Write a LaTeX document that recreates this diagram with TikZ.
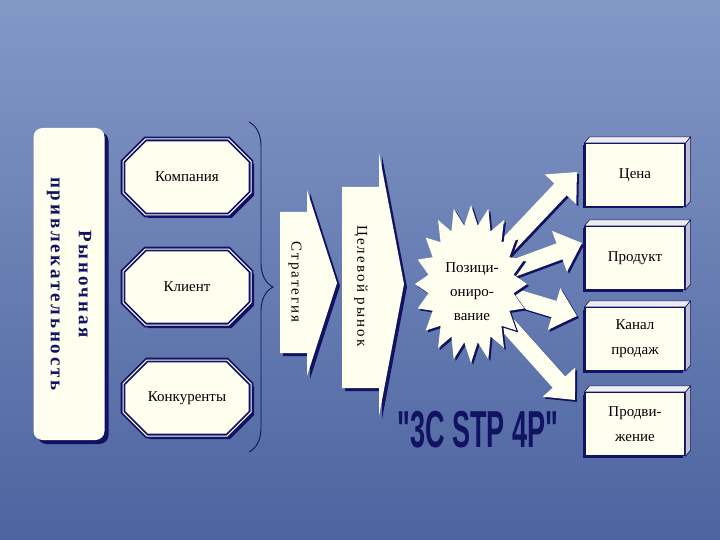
\documentclass[tikz,border=0pt]{standalone}
\usepackage{fontspec}
\setmainfont{Liberation Serif}
\newfontfamily\spacedfont[LetterSpace=14]{Liberation Serif}
\newfontfamily\widefont[LetterSpace=15]{Liberation Serif Bold}
\newfontfamily\headfont{Liberation Sans Bold}
\usetikzlibrary{shapes.misc,shadows,arrows.meta,decorations.pathreplacing}

\definecolor{bgtop}{RGB}{132,152,198}
\definecolor{bgbot}{RGB}{76,100,160}
\definecolor{navy}{RGB}{18,18,98}
\definecolor{cream}{RGB}{255,255,240}
\definecolor{topface}{RGB}{236,236,242}
\definecolor{sideface}{RGB}{188,190,205}

\tikzset{
  navyshadow/.style={drop shadow={shadow xshift=3pt,shadow yshift=-3pt,fill=navy,opacity=1}},
  attrbox/.style={rotate=-90, fill=cream, rounded corners=9pt,
    minimum width=312pt, minimum height=71pt, align=center, text=navy,
    font=\widefont\fontsize{19}{28}\selectfont,
    drop shadow={shadow xshift=4pt,shadow yshift=-4pt,fill=navy,opacity=1}},
  factor/.style={chamfered rectangle, chamfered rectangle xsep=14pt,
    chamfered rectangle ysep=14pt, draw=navy, line width=1.8pt,
    double=white, double distance=1pt, fill=cream,
    minimum width=128pt, minimum height=76pt, text=black,
    font=\fontsize{15}{17}\selectfont, navyshadow},
  chevron/.style={fill=cream, navyshadow},
  vlabel/.style={rotate=-90, text=black, font=\spacedfont\fontsize{15}{17}\selectfont},
  fatshaft/.style={line width=17pt, -{Triangle[length=24pt,width=42pt]}},
  pbox/.style={draw=navy, line width=1.2pt, fill=cream, minimum width=100pt,
    minimum height=63pt, align=center, text=black,
    font=\fontsize{15}{25}\selectfont,
    drop shadow={shadow xshift=-2pt,shadow yshift=-2pt,fill=navy,opacity=1}},
  headline/.style={xscale=0.52, text=navy, font=\headfont\fontsize{52}{52}\selectfont},
}

\begin{document}
\begin{tikzpicture}[x=1pt,y=-1pt]
  \useasboundingbox (0,0) rectangle (720,540);
  \shade[top color=bgtop, bottom color=bgbot] (0,0) rectangle (720,540);

  % brace over the three C
  \coordinate (bracetop) at (249,122);
  \coordinate (bracebot) at (249,452);
  \draw[navy, line width=.9pt, decorate, decoration={brace, amplitude=24pt}]
    (bracetop) -- (bracebot);

  % 3C
  \node[attrbox] (attr) at (69,284) {Рыночная\\привлекательность};
  \node[factor] (company) at (187,177) {Компания};
  \node[factor] (client) at (187,287) {Клиент};
  \node[factor] (rivals) at (187,398) {Конкуренты};

  % STP
  \path[chevron] (280,212) -- (307,212) -- (307,190) -- (337,283)
    -- (307,376) -- (307,353) -- (280,353) -- cycle;
  \node[vlabel] (strategy) at (295,282) {Стратегия};
  \path[chevron] (342,187) -- (379,187) -- (379,153) -- (404,284)
    -- (379,416) -- (379,388) -- (342,388) -- cycle;
  \node[vlabel] (target) at (361,286) {Целевой рынок};

  % arrows to 4P
  \coordinate (pos0) at (471,284);
  \coordinate (t1) at (577,172);
  \coordinate (t2) at (582,243);
  \coordinate (t3) at (577,316);
  \coordinate (t4) at (575,400);
  \foreach \t in {t1,t2,t3,t4}{
    \draw[fatshaft, navy, transform canvas={shift={(2pt,-2pt)}}] (pos0) -- (\t);
    \draw[fatshaft, cream] (pos0) -- (\t);
  }

  % star
  \foreach \col/\dx in {navy/2,cream/0}
    \fill[\col, xshift=\dx pt, yshift=-\dx pt]
      plot[samples at={0,...,39}, variable=\k]
      ({471+(49.5+6.5*cos(180*\k))*cos(90+9*\k)},
       {284-(69+10*cos(180*\k))*sin(90+9*\k)}) -- cycle;
  \node[align=center, font=\fontsize{15}{24}\selectfont] (pos) at (472,292)
    {Позици-\\ониро-\\вание};

  % 4P
  \node[pbox] (price) at (635,175) {Цена};
  \node[pbox] (product) at (635,258) {Продукт};
  \node[pbox] (channel) at (635,339) {Канал\\продаж};
  \node[pbox] (promo) at (635,424) {Продви-\\жение};
  \foreach \b in {price,product,channel,promo}{
    \filldraw[fill=topface, draw=navy, line width=.6pt] (\b.north west)
      -- ++(5,-6) -- ([shift={(5,-6)}]\b.north east) -- (\b.north east) -- cycle;
    \filldraw[fill=sideface, draw=navy, line width=.6pt] (\b.north east)
      -- ++(5,-6) -- ([shift={(5,-6)}]\b.south east) -- (\b.south east) -- cycle;
  }

  \node[headline] (title) at (478,430) {"3C STP 4P"};
\end{tikzpicture}
\end{document}
